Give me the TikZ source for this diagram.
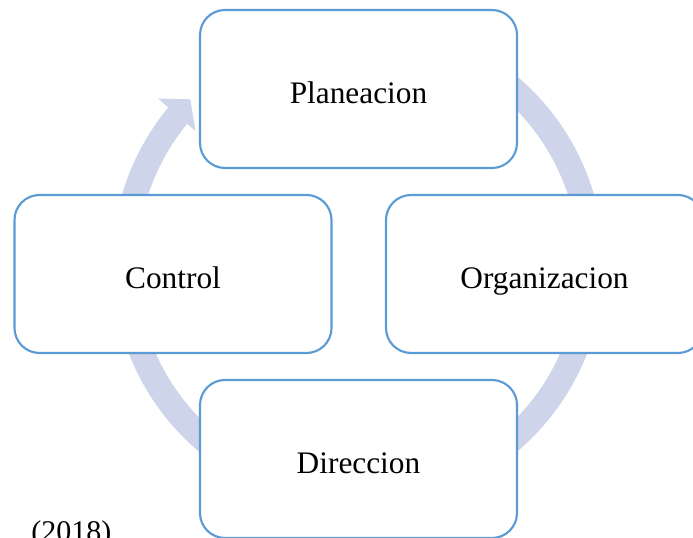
\documentclass[tikz,border=0pt]{standalone}
\usepackage{fontspec}
\setmainfont{Liberation Serif}
\usetikzlibrary{calc}
\definecolor{boxline}{RGB}{91,155,213}
\definecolor{band}{RGB}{206,212,234}
\tikzset{
  stagebox/.style={draw=boxline, line width=1.6pt, fill=white, rounded corners=18.75pt,
    minimum width=237.75pt, minimum height=118.5pt, inner sep=0pt,
    text height=24pt, text depth=2.5pt,
    font=\fontsize{23.5}{28}\selectfont, text=black},
}
\begin{document}
\begin{tikzpicture}[x=0.75pt,y=0.75pt]
\useasboundingbox (0,0) rectangle (693,538);
\clip (0,0) rectangle (693,538);
\coordinate (c) at (358,274);
% circular band
\draw[band, line width=18.75pt] (c) ++(100:233.5) arc (100:-219.6:233.5);
\fill[band] ($(c)+(140.4:259.5)$) coordinate (h1) -- ($(c)+(135.5:235)$) coordinate (tip)
  -- ($(c)+(140.7:210)$) coordinate (h2) -- cycle;
% stages
\node[stagebox] (plan) at (358.5,449) {Planeacion};
\node[stagebox] (ctrl) at (173,264) {Control};
\node[stagebox] (org) at (544.5,264) {Organizacion};
\node[stagebox] (dir) at (358.5,79) {Direccion};
\node[anchor=base west, inner sep=0pt, font=\fontsize{22.5}{26}\selectfont] (src) at (31,-4) {(2018)};
\end{tikzpicture}
\end{document}
